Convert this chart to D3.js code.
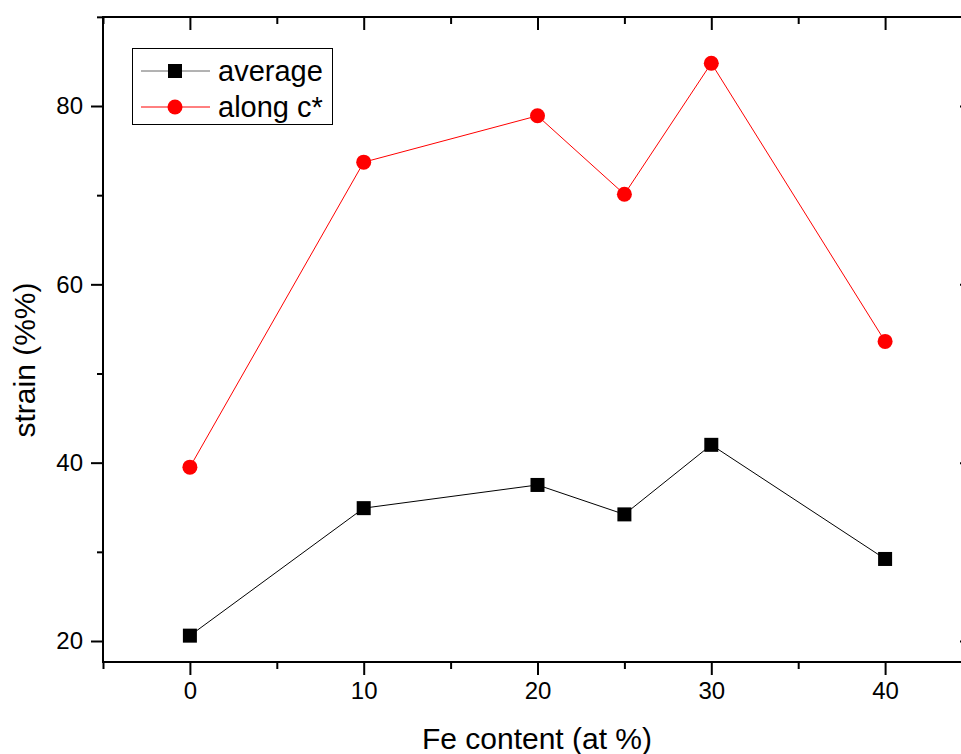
<!DOCTYPE html>
<html><head><meta charset="utf-8">
<script src="https://cdn.jsdelivr.net/npm/d3@7"></script>
<style>body{margin:0;background:#fff}svg{display:block}text{font-family:"Liberation Sans",Arial,sans-serif}</style>
</head><body><svg id="c" width="961" height="754"></svg>
<script>
const feContent = [0, 10, 20, 25, 30, 40];
const averageStrain = [20.6, 34.9, 37.5, 34.2, 42.0, 29.2];
const alongCStrain = [39.5, 73.7, 78.9, 70.1, 84.8, 53.6];
const xTicks = [0, 10, 20, 30, 40];
const xMinorTicks = [-5, 5, 15, 25, 35, 45];
const yTicks = [20, 40, 60, 80];
const yMinorTicks = [30, 50, 70, 90];
const seriesNames = ["average", "along c*"];

const svg = d3.select("#c");
const L = 103, R = 972, T = 17, B = 662;
const x = d3.scaleLinear().domain([-5, 45]).range([L, R]);
const y = d3.scaleLinear().domain([20, 80]).range([641, 106]);

// frame
svg.append("rect").attr("x", L).attr("y", T).attr("width", R - L).attr("height", B - T)
  .attr("fill", "none").attr("stroke", "#000").attr("stroke-width", 2);

// bottom axis
svg.append("g").attr("transform", `translate(0,${B})`)
  .call(d3.axisBottom(x).tickValues(xTicks).tickSize(13).tickPadding(7).tickFormat(d3.format("d")));
svg.append("g").attr("transform", `translate(0,${B})`)
  .call(d3.axisBottom(x).tickValues(xMinorTicks).tickSize(7).tickFormat(""));
// top axis (inward)
svg.append("g").attr("transform", `translate(0,${T})`)
  .call(d3.axisBottom(x).tickValues(xTicks).tickSize(13).tickFormat(""));
svg.append("g").attr("transform", `translate(0,${T})`)
  .call(d3.axisBottom(x).tickValues(xMinorTicks).tickSize(7).tickFormat(""));
// left axis
svg.append("g").attr("transform", `translate(${L},0)`)
  .call(d3.axisLeft(y).tickValues(yTicks).tickSize(12).tickPadding(8).tickFormat(d3.format("d")));
svg.append("g").attr("transform", `translate(${L},0)`)
  .call(d3.axisLeft(y).tickValues(yMinorTicks).tickSize(6).tickFormat(""));
// right axis (inward)
svg.append("g").attr("transform", `translate(${R},0)`)
  .call(d3.axisLeft(y).tickValues(yTicks).tickSize(12).tickFormat(""));
svg.append("g").attr("transform", `translate(${R},0)`)
  .call(d3.axisLeft(y).tickValues(yMinorTicks).tickSize(6).tickFormat(""));

svg.selectAll(".domain").remove();
svg.selectAll(".tick line").attr("stroke", "#000").attr("stroke-width", 2);
svg.selectAll(".tick text").attr("font-size", 24).attr("fill", "#000");

// axis titles
svg.append("text").attr("x", 537).attr("y", 749).attr("text-anchor", "middle")
  .attr("font-size", 30).text("Fe content (at %)");
svg.append("text").attr("transform", `translate(35,360) rotate(-90)`).attr("text-anchor", "middle")
  .attr("font-size", 30).text("strain (%%)");

// series
const line = d3.line().x((d, i) => x(feContent[i])).y(d => y(d));
svg.append("path").datum(averageStrain).attr("d", line).attr("fill", "none").attr("stroke", "#000").attr("stroke-width", 1);
svg.append("path").datum(alongCStrain).attr("d", line).attr("fill", "none").attr("stroke", "#f00").attr("stroke-width", 1);
svg.selectAll(".sq").data(averageStrain).enter().append("rect")
  .attr("x", (d, i) => x(feContent[i]) - 7).attr("y", d => y(d) - 7).attr("width", 14).attr("height", 14).attr("fill", "#000");
svg.selectAll(".ci").data(alongCStrain).enter().append("circle")
  .attr("cx", (d, i) => x(feContent[i])).attr("cy", d => y(d)).attr("r", 7.5).attr("fill", "#f00");

// legend
const lg = svg.append("g");
lg.append("rect").attr("x", 132.5).attr("y", 48.5).attr("width", 200).attr("height", 76)
  .attr("fill", "#fff").attr("stroke", "#000").attr("stroke-width", 1);
const rows = [71, 107];
lg.append("line").attr("x1", 141).attr("x2", 210).attr("y1", rows[0]).attr("y2", rows[0]).attr("stroke", "#666").attr("stroke-width", 1);
lg.append("rect").attr("x", 175 - 7).attr("y", rows[0] - 7).attr("width", 14).attr("height", 14).attr("fill", "#000");
lg.append("line").attr("x1", 141).attr("x2", 210).attr("y1", rows[1]).attr("y2", rows[1]).attr("stroke", "#f00").attr("stroke-width", 1);
lg.append("circle").attr("cx", 175).attr("cy", rows[1]).attr("r", 7.5).attr("fill", "#f00");
seriesNames.forEach((n, i) => {
  lg.append("text").attr("x", 218).attr("y", rows[i] + 10).attr("font-size", 29).text(n);
});
</script></body></html>
